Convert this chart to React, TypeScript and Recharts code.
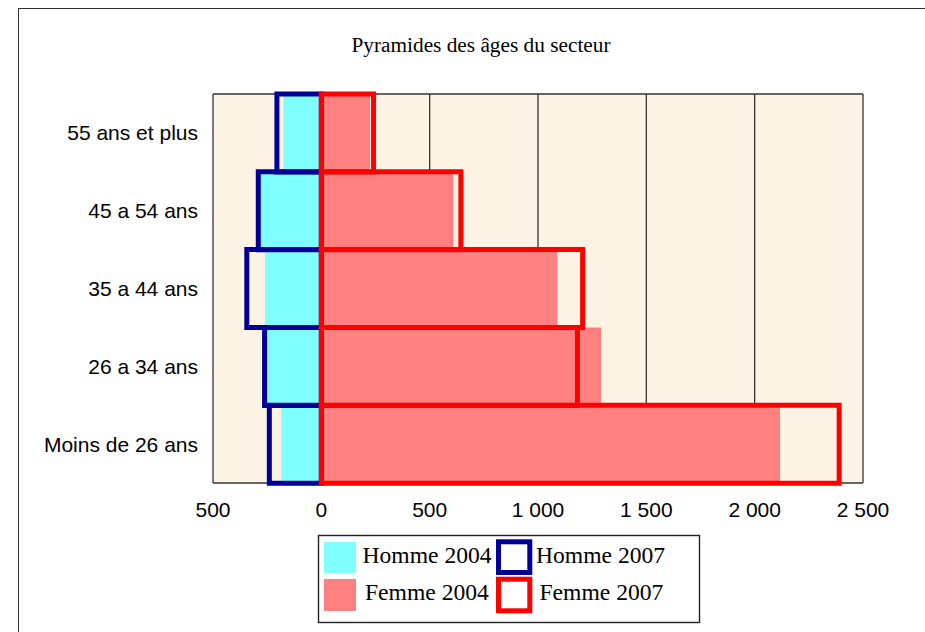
import { BarChart, Bar, XAxis, YAxis, CartesianGrid } from 'recharts';

const ageGroups = ['55 ans et plus', '45 a 54 ans', '35 a 44 ans', '26 a 34 ans', 'Moins de 26 ans'];
const homme2004 = [175, 290, 260, 260, 186];
const femme2004 = [225, 609, 1090, 1291, 2117];
const homme2007 = [205, 291, 344, 262, 240];
const femme2007 = [241, 644, 1206, 1182, 2390];
const xTicks = [-500, 0, 500, 1000, 1500, 2000, 2500];

const CYAN = '#80FFFF';
const SALMON = '#FF8080';
const NAVY = '#000099';
const RED = '#FF0000';

// men go to the left of zero
const data = ageGroups.map((group, i) => ({
  group,
  h2004: -homme2004[i],
  f2004: femme2004[i],
  h2007: -homme2007[i],
  f2007: femme2007[i],
}));

const sansTick = {
  fill: '#000',
  fontSize: 21,
  fontFamily: '"Liberation Sans", Arial, sans-serif',
} as const;

const serif = '"Liberation Serif", "Times New Roman", serif';

function fmt(v: number) {
  return String(Math.abs(v)).replace(/\B(?=(\d{3})+(?!\d))/g, ' ');
}

function LegendBox() {
  return (
    <svg
      width={925}
      height={632}
      style={{ position: 'absolute', left: 0, top: 0, pointerEvents: 'none' }}
    >
      <text x={481} y={52} textAnchor="middle" fontFamily={serif} fontSize={21.3} fill="#000">
        Pyramides des âges du secteur
      </text>
      <rect x={318.5} y={535.5} width={381} height={87} fill="#fff" stroke="#222" strokeWidth={1.4} />
      <rect x={324} y={542} width={32} height={31} fill={CYAN} />
      <rect x={324} y={579} width={32} height={32} fill={SALMON} />
      <rect x={498.5} y={541.8} width={31.3} height={30.7} fill="none" stroke={NAVY} strokeWidth={5} />
      <rect x={498.5} y={579.2} width={31.3} height={31.6} fill="none" stroke={RED} strokeWidth={5} />
      <g fontFamily={serif} fontSize={23.6} fill="#000">
        <text x={362.5} y={562.5}>Homme 2004</text>
        <text x={365} y={600}>Femme 2004</text>
        <text x={536} y={562.5}>Homme 2007</text>
        <text x={539.5} y={600}>Femme 2007</text>
      </g>
    </svg>
  );
}

export default function App() {
  return (
    <div
      style={{
        position: 'absolute',
        left: 0,
        top: 0,
        width: 925,
        height: 632,
        background: '#fff',
        overflow: 'hidden',
      }}
    >
      <div
        style={{
          position: 'absolute',
          left: 18,
          top: 8,
          width: 940,
          height: 650,
          borderLeft: '1.4px solid #333',
          borderTop: '1.4px solid #333',
        }}
      />
      <div style={{ position: 'absolute', left: 0, top: 0 }}>
        <BarChart
          width={925}
          height={632}
          data={data}
          layout="vertical"
          stackOffset="sign"
          barCategoryGap={0}
          barGap={0}
          margin={{ top: 94, right: 62, left: 18, bottom: 109 }}
        >
          <CartesianGrid
            fill="#FDF3E4"
            fillOpacity={1}
            stroke="#333"
            strokeWidth={1.3}
            horizontalCoordinatesGenerator={({ offset }: any) => [offset.top, offset.top + offset.height]}
          />
          <XAxis
            type="number"
            domain={[-500, 2500]}
            ticks={xTicks}
            tickFormatter={fmt}
            tick={sansTick}
            tickLine={false}
            axisLine={false}
            tickSize={17}
            tickMargin={2}
            height={40}
            interval={0}
          />
          <YAxis
            type="category"
            dataKey="group"
            tick={sansTick}
            tickLine={false}
            axisLine={false}
            tickSize={13}
            tickMargin={2}
            width={195}
            interval={0}
          />
          <YAxis yAxisId="b" type="category" dataKey="group" hide />
          <Bar dataKey="h2004" stackId="a" fill={CYAN} isAnimationActive={false} />
          <Bar dataKey="f2004" stackId="a" fill={SALMON} isAnimationActive={false} />
          <Bar
            dataKey="h2007"
            yAxisId="b"
            stackId="b"
            fill="none"
            stroke={NAVY}
            strokeWidth={5}
            isAnimationActive={false}
          />
          <Bar
            dataKey="f2007"
            yAxisId="b"
            stackId="b"
            fill="none"
            stroke={RED}
            strokeWidth={5}
            isAnimationActive={false}
          />
        </BarChart>
      </div>
      <LegendBox />
    </div>
  );
}
